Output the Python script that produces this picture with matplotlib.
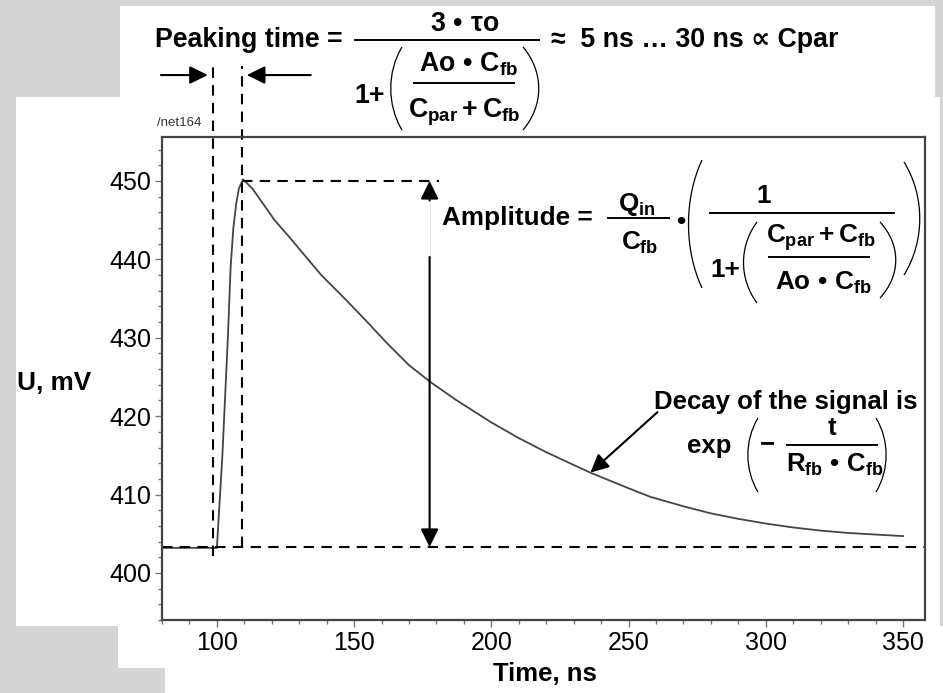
import matplotlib
matplotlib.use("Agg")
import matplotlib.pyplot as plt
from matplotlib.patches import Rectangle, PathPatch
from matplotlib.path import Path
from matplotlib.lines import Line2D
from matplotlib.transforms import Affine2D
from matplotlib.ticker import MultipleLocator

# shaper output (ns, mV)
t_ns = [80, 90, 100, 102, 104, 105, 106, 107, 108, 109.5, 113, 117, 121, 126,
        132, 138, 146, 154, 162, 170, 178, 187, 200, 210, 220, 236, 250, 258,
        270, 280, 290, 300, 310, 320, 330, 340, 350]
u_mv = [403.2, 403.2, 403.2, 415, 430, 439, 444, 447, 449, 450.2, 449.0, 447.0,
        445.0, 443.0, 440.5, 438.0, 435.2, 432.3, 429.3, 426.5, 424.3, 422.1,
        419.2, 417.2, 415.4, 412.8, 410.8, 409.7, 408.5, 407.6, 406.9, 406.3,
        405.8, 405.4, 405.1, 404.9, 404.7]

baseline = 403.3
peak_t, peak_u = 109.2, 450.0
start_t = 98.7
amp_t = 177.5

x_ticks = [100, 150, 200, 250, 300, 350]
y_ticks = [400, 410, 420, 430, 440, 450]

W, H = 943, 693
plt.rcParams['mathtext.fontset'] = 'custom'
plt.rcParams['mathtext.rm'] = 'Liberation Sans:bold'
plt.rcParams['mathtext.it'] = 'Liberation Sans:bold'
plt.rcParams['mathtext.bf'] = 'Liberation Sans:bold'
plt.rcParams['mathtext.sf'] = 'Liberation Sans:bold'
plt.rcParams['font.family'] = ['Liberation Sans', 'DejaVu Sans']

fig = plt.figure(figsize=(W / 100, H / 100), dpi=100, facecolor='#d5d5d5')
# pixel coords measured from the top-left corner of the picture
pix = Affine2D().scale(1 / W, -1 / H).translate(0, 1) + fig.transFigure


def fx(px):
    return px / W


def fy(py):
    return 1 - py / H


def txt(x, y, s, size, ha='center', **kw):
    fig.text(x, y, s, transform=pix, ha=ha, va='baseline', fontsize=size,
             fontweight='bold', color='black', **kw)


def bar(x0, x1, y, lw=1.4):
    fig.add_artist(Line2D([x0, x1], [y, y], transform=pix, color='black', lw=lw))


def paren(x_end, x_bulge, y0, y1):
    # thin tall bracket: ends at x_end, middle reaching x_bulge
    c = x_bulge - (x_end - x_bulge) / 2
    h = y1 - y0
    p = Path([(x_end, y0), (c, y0 + 0.3 * h), (c, y1 - 0.3 * h), (x_end, y1)],
             [Path.MOVETO, Path.CURVE4, Path.CURVE4, Path.CURVE4])
    fig.add_artist(PathPatch(p, transform=pix, fc='none', ec='black', lw=0.9))


# white panels pasted on the grey background
for x0, y0, x1, y1 in [(120, 6, 935, 100), (16, 97, 940, 626),
                       (118, 626, 943, 668), (165, 668, 943, 693)]:
    fig.patches.append(Rectangle((fx(x0), fy(y1)), fx(x1 - x0), (y1 - y0) / H,
                                 transform=fig.transFigure, fc='white',
                                 ec='none', zorder=-1))

ax = fig.add_axes([fx(162), fy(620), fx(925 - 162), (620 - 137) / H])
ax.plot(t_ns, u_mv, color='#444444', lw=1.3)
ax.set_xlim(80, 358)
ax.set_ylim(394, 455.6)
ax.set_xticks(x_ticks)
ax.set_yticks(y_ticks)
ax.xaxis.set_minor_locator(MultipleLocator(10))
ax.yaxis.set_minor_locator(MultipleLocator(2))
ax.tick_params(which='both', direction='out', color='#777777', width=1)
ax.tick_params(which='major', length=5, labelsize=18, pad=3)
ax.tick_params(which='minor', length=3)
for s in ax.spines.values():
    s.set_color('#444444')
    s.set_linewidth(1.6)

dash = dict(color='black', lw=1.5, ls=(0, (5, 3.5)), clip_on=False)
ax.plot([start_t, start_t], [402.2, 464.6], **dash)
ax.plot([peak_t, peak_t], [baseline, 464.6], **dash)
ax.plot([peak_t, 181], [peak_u, peak_u], **dash)
ax.plot([80, 358], [baseline, baseline], **dash)

arr = dict(arrowstyle='-|>,head_length=0.55,head_width=0.27', color='black',
           lw=1.5, shrinkA=0, shrinkB=0, mutation_scale=20)
ax.annotate('', xy=(96.7, 463.5), xytext=(79.6, 463.5), arrowprops=arr,
            annotation_clip=False)
ax.annotate('', xy=(110.9, 463.5), xytext=(134.2, 463.5), arrowprops=arr,
            annotation_clip=False)
# amplitude arrow, hidden behind the formula box in the middle
ax.annotate('', xy=(amp_t, baseline), xytext=(amp_t, 440.3), arrowprops=arr)
ax.annotate('', xy=(amp_t, peak_u), xytext=(amp_t, 447.5), arrowprops=arr)
ax.plot([amp_t, amp_t], [440.3, 447.5], color='#dddddd', lw=0.6)
# decay arrow
ax.annotate('', xy=(236.1, 412.8), xytext=(260.5, 420.5), arrowprops=arr)

# peaking time formula
fp = 19.3
txt(343, 47, 'Peaking time =', fp, ha='right')
txt(465, 31, r'$3\ •\ \tau o$', fp)
bar(355, 539, 39.5)
txt(551, 47, '≈  5 ns … 30 ns ∝ Cpar', fp, ha='left')
txt(369.5, 103, '1+', fp)
paren(402, 392, 47, 130)
paren(523, 537, 47, 130)
txt(469, 72, r'$Ao\ •\ C_{fb}$', fp)
bar(414, 514, 82.7)
txt(464, 117, r'$C_{par}+C_{fb}$', fp)

# amplitude formula
fa = 18.8
txt(442, 225, 'Amplitude =', fa, ha='left')
txt(637, 211, r'$Q_{in}$', fa)
bar(608, 669, 218.3)
txt(640, 250, r'$C_{fb}$', fa)
txt(680.5, 229, '•', fa)
paren(702, 690, 160, 288)
paren(904, 918, 162, 275)
txt(764, 203, '1', fa)
bar(710, 894, 213.3)
txt(725.5, 277, '1+', fa)
paren(757, 745, 222, 303)
paren(880, 894, 222, 298)
txt(821, 243, r'$C_{par}+C_{fb}$', fa)
bar(769, 869, 256.7)
txt(823, 290, r'$Ao\ •\ C_{fb}$', fa)

# decay formula
fd = 18.5
txt(918, 409, 'Decay of the signal is', fd, ha='right')
txt(687, 453, 'exp', fd, ha='left')
paren(758, 749, 418, 492)
paren(876, 885, 418, 492)
txt(767, 451, '\u2212', fd)
txt(832, 435, 't', fd)
bar(787, 877, 445)
txt(835, 472, r'$R_{fb}\ •\ C_{fb}$', fd)

txt(17, 390, 'U, mV', 18.8, ha='left')
txt(545, 681, 'Time, ns', 18.5)
fig.text(fx(157), fy(126), '/net164', ha='left', va='baseline',
         fontsize=9.5, color='#333333')

fig.savefig('out.png', dpi=100, facecolor=fig.get_facecolor())
